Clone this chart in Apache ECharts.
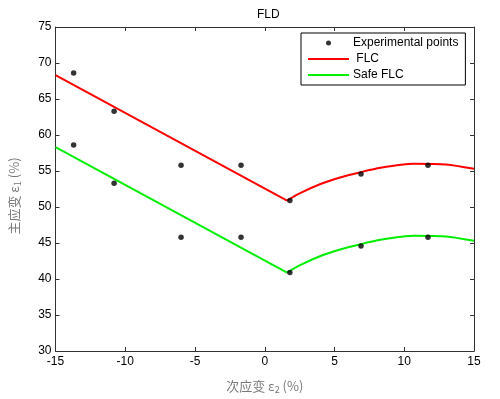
<!DOCTYPE html>
<html>
<head>
<meta charset="utf-8">
<script src="https://cdn.jsdelivr.net/npm/echarts@6/dist/echarts.min.js"></script>
<style>html,body{margin:0;padding:0;background:#fff}#c{width:500px;height:399px}</style>
</head>
<body>
<div id="c"></div>
<script>
// Experimental points (minor strain ε2, major strain ε1)
const expX = [-13.7, -13.7, -10.8, -10.8, -6.0, -6.0, -1.7, -1.7, 1.8, 1.8, 6.9, 6.9, 11.7, 11.7];
const expY = [68.6, 58.6, 63.3, 53.3, 55.8, 45.8, 55.8, 45.8, 50.9, 40.9, 54.6, 44.6, 55.8, 45.8];
// FLC: straight left branch and curved right branch
const flcLine = [[-15, 68.3], [1.6, 50.9]];
const flcCurve = [[1.6, 50.9], [2.5, 51.9], [4.0, 53.2], [5.4, 54.1], [6.8, 54.8], [8.3, 55.45], [10.7, 56.0], [13.0, 55.9], [15.0, 55.3]];
// Safe FLC
const safeLine = [[-15, 58.3], [1.6, 40.9]];
const safeCurve = [[1.6, 40.9], [2.5, 41.9], [4.0, 43.2], [5.4, 44.1], [6.8, 44.8], [8.3, 45.45], [10.7, 46.0], [13.0, 45.9], [15.0, 45.3]];
const xTicks = [-15, -10, -5, 0, 5, 10, 15];
const yTicks = [30, 35, 40, 45, 50, 55, 60, 65, 70, 75];

const expData = expX.map((x, i) => [x, expY[i]]);
const font = 'Liberation Sans, Arial, sans-serif';
const lineIcon = 'path://M0,0H41V2H0Z';
const axisCommon = {
  axisLine: {show: true, onZero: false, lineStyle: {color: '#333', width: 1}},
  axisTick: {show: true, inside: true, length: 4, lineStyle: {color: '#333'}},
  splitLine: {show: false}
};
const chart = echarts.init(document.getElementById('c'));
chart.setOption({
  animation: false,
  backgroundColor: '#fff',
  title: {
    text: 'FLD', left: 252, top: 4,
    textStyle: {fontFamily: font, fontSize: 12, fontWeight: 'normal', color: '#000'}
  },
  legend: {
    left: 301, top: 33, orient: 'vertical',
    padding: [4, 7, 4, 7], itemGap: 4,
    itemWidth: 41, itemHeight: 5,
    borderColor: '#000', borderWidth: 1, backgroundColor: '#fff',
    textStyle: {fontFamily: font, fontSize: 12, color: '#000', padding: [0, 0, 0, -1]},
    formatter: n => n === 'FLC' ? ' FLC' : n,
    data: [
      {name: 'Experimental points', icon: 'circle'},
      {name: 'FLC', icon: lineIcon},
      {name: 'Safe FLC', icon: lineIcon}
    ]
  },
  grid: {left: 55, right: 26, top: 27, bottom: 42},
  xAxis: [
    Object.assign({
      type: 'value', min: -15, max: 15, interval: 5, position: 'bottom',
      axisLabel: {fontFamily: font, fontSize: 12, color: '#000', margin: 5,
        formatter: v => xTicks.includes(v) ? String(v) : ''},
      name: '{a|次应变 ε}{s|2}{a| (%)}', nameLocation: 'middle', nameGap: 27,
      nameTextStyle: {
        rich: {
          a: {fontFamily: 'Noto Sans CJK SC', fontSize: 13, color: '#7a7a7a'},
          s: {fontFamily: 'Noto Sans CJK SC', fontSize: 9, color: '#7a7a7a', padding: [7, 0, 0, 0]}
        }
      }
    }, axisCommon),
    Object.assign({
      type: 'value', min: -15, max: 15, interval: 5, position: 'top',
      axisLabel: {show: false}
    }, axisCommon)
  ],
  yAxis: [
    Object.assign({
      type: 'value', min: 30, max: 75, interval: 5, position: 'left',
      axisLabel: {fontFamily: font, fontSize: 12, color: '#000', margin: 4,
        formatter: v => yTicks.includes(v) ? String(v) : ''},
      name: '{a|主应变 ε}{s|1}{a| (%)}', nameLocation: 'middle', nameGap: 33, nameRotate: 90,
      nameTextStyle: {
        padding: [0, 14, 0, 0],
        rich: {
          a: {fontFamily: 'Noto Sans CJK SC', fontSize: 13, color: '#7a7a7a'},
          s: {fontFamily: 'Noto Sans CJK SC', fontSize: 9, color: '#7a7a7a', padding: [7, 0, 0, 0]}
        }
      }
    }, axisCommon),
    Object.assign({
      type: 'value', min: 30, max: 75, interval: 5, position: 'right',
      axisLabel: {show: false}
    }, axisCommon)
  ],
  series: [
    {name: 'FLC', type: 'line', data: flcLine, symbol: 'none', lineStyle: {color: '#ff0000', width: 2}, itemStyle: {color: '#ff0000'}, z: 2},
    {name: 'FLC', type: 'line', data: flcCurve, symbol: 'none', smooth: 0.25, lineStyle: {color: '#ff0000', width: 2}, itemStyle: {color: '#ff0000'}, z: 2},
    {name: 'Safe FLC', type: 'line', data: safeLine, symbol: 'none', lineStyle: {color: '#00ee00', width: 2}, itemStyle: {color: '#00ee00'}, z: 2},
    {name: 'Safe FLC', type: 'line', data: safeCurve, symbol: 'none', smooth: 0.25, lineStyle: {color: '#00ee00', width: 2}, itemStyle: {color: '#00ee00'}, z: 2},
    {name: 'Experimental points', type: 'scatter', data: expData, symbol: 'circle', symbolSize: 5.5, itemStyle: {color: '#000'}, z: 3}
  ]
});
</script>
</body>
</html>
